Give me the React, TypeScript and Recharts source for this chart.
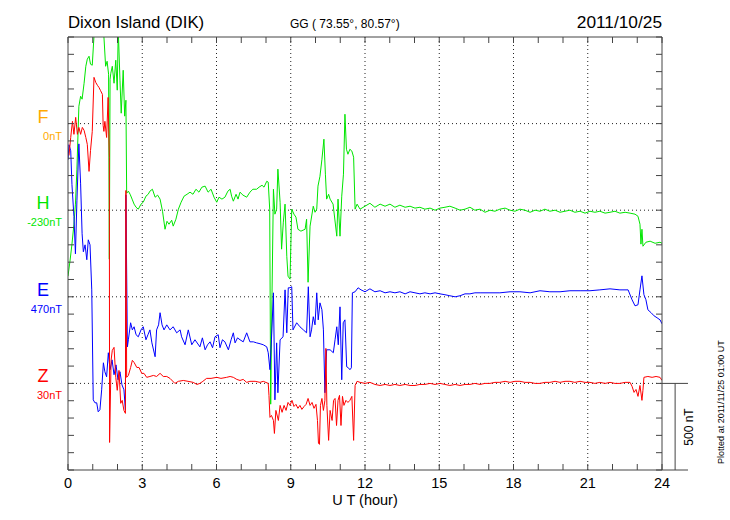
import { Line, LineChart, ReferenceLine, XAxis, YAxis } from "recharts";

// hour ticks along UT axis, labels every 3 h
const HOUR_TICKS = Array.from({ length: 25 }, (_, i) => i);
// plot units (nT), 100 nT per tick, 2500 nT full height
const NT_TICKS = Array.from({ length: 26 }, (_, i) => i * 100);

const COMPONENTS = ["F", "H", "E", "Z"];
const COMPONENT_BASE = [2000, 1500, 1000, 500];
const COMPONENT_LEVEL = ["0nT", "-230nT", "470nT", "30nT"];
const COMPONENT_COLOR = ["#ffaa00", "#00e600", "#0000ff", "#ff0000"];

// [UT hour, deviation nT]
const H_POINTS: [number, number][] = [
    [0, -381], [0.08, -294], [0.16, -196], [0.24, -81], [0.3, 35], [0.36, 237], [0.44, 600],
    [0.51, 658], [0.57, 641], [0.65, 733], [0.72, 831], [0.78, 872], [0.85, 889], [0.91, 843],
    [0.98, 837], [1.05, 1005], [1.13, 1074], [1.29, 1103], [1.37, 1057], [1.45, 1005],
    [1.52, 831], [1.58, 860], [1.64, 785], [1.67, -283], [1.7, 756], [1.73, 791], [1.79, 831],
    [1.86, 733], [1.93, 866], [1.99, 693], [2.03, 1045], [2.1, 751], [2.15, 560], [2.23, 808],
    [2.29, 543], [2.34, 635], [2.37, 98], [2.44, 110], [2.51, 92], [2.59, 64], [2.67, 35],
    [2.75, 17], [2.84, 6], [2.95, 35], [3.04, 46], [3.15, 81], [3.24, 92], [3.31, 110],
    [3.41, 121], [3.52, 75], [3.62, 87], [3.72, 64], [3.82, -6], [3.92, -110], [4.0, -64],
    [4.08, -81], [4.19, -58], [4.25, -92], [4.36, -52], [4.46, 6], [4.57, 46], [4.69, 81],
    [4.81, 92], [4.93, 104], [5.05, 92], [5.17, 121], [5.29, 104], [5.41, 133], [5.54, 139],
    [5.66, 104], [5.78, 121], [5.9, 75], [6.01, 46], [6.1, 75], [6.22, 64], [6.34, 75],
    [6.46, 110], [6.55, 121], [6.61, 81], [6.68, 52], [6.79, 92], [6.87, 64], [6.95, 104],
    [7.07, 87], [7.22, 75], [7.35, 104], [7.47, 121], [7.62, 121], [7.72, 133], [7.84, 144],
    [7.92, 133], [8.03, 167], [8.09, 162], [8.15, 6], [8.19, -1120], [8.24, -514], [8.3, 121],
    [8.36, -23], [8.43, 6], [8.48, 237], [8.57, 46], [8.63, -225], [8.7, -69], [8.77, 35],
    [8.84, -266], [8.89, -381], [8.97, -398], [9.04, 6], [9.13, -23], [9.21, -40], [9.29, -110],
    [9.41, -121], [9.58, -110], [9.64, -52], [9.7, -416], [9.78, -92], [9.91, 23], [9.98, -12],
    [10.05, 6], [10.1, 139], [10.18, 196], [10.26, 294], [10.34, 410], [10.4, 208], [10.45, 64],
    [10.53, 92], [10.59, 64], [10.71, 35], [10.86, -150], [10.91, 64], [10.99, -150], [11.06, 81],
    [11.13, 208], [11.19, 554], [11.25, 352], [11.31, 323], [11.39, 352], [11.47, 341],
    [11.54, 306], [11.6, 6], [11.68, 35], [11.8, 6], [12.0, 23], [12.2, 40], [12.4, 17],
    [12.61, 35], [12.81, 23], [13.01, 35], [13.21, 17], [13.41, 29], [13.62, 17], [13.82, 23],
    [14.02, 12], [14.22, 17], [14.42, 6], [14.63, 12], [14.83, 0], [15.03, 12], [15.23, 17],
    [15.43, 23], [15.64, 12], [15.84, 0], [16.04, 6], [16.24, 17], [16.44, 0], [16.65, 6],
    [16.85, -12], [17.05, 0], [17.25, -6], [17.45, 6], [17.66, 12], [17.86, 0], [18.06, -6],
    [18.26, 6], [18.46, 0], [18.67, -12], [18.87, 0], [19.07, -6], [19.27, 6], [19.47, -6],
    [19.68, 0], [19.88, -12], [20.08, -6], [20.28, 0], [20.48, -12], [20.69, -6], [20.89, -17],
    [21.09, -6], [21.29, -12], [21.49, -6], [21.7, -17], [21.9, -12], [22.1, -6], [22.3, -17],
    [22.51, -12], [22.71, -17], [22.91, -23], [23.03, -35], [23.11, -81], [23.15, -196],
    [23.19, -110], [23.23, -208], [23.35, -185], [23.52, -179], [23.72, -191], [23.92, -185],
    [24.0, -191],
];

const E_POINTS: [number, number][] = [
    [0, 791], [0.04, 878], [0.11, 843], [0.16, 647], [0.24, 462], [0.3, 248], [0.36, 554],
    [0.44, 883], [0.51, 652], [0.57, 364], [0.62, 260], [0.69, 300], [0.76, 214], [0.82, 329],
    [0.89, 300], [0.96, 40], [1.02, -595], [1.09, -612], [1.16, -612], [1.22, -664],
    [1.29, -652], [1.36, -537], [1.43, -381], [1.49, -433], [1.56, -462], [1.63, -323],
    [1.7, -421], [1.78, -364], [1.86, -450], [1.94, -393], [2.02, -479], [2.1, -433],
    [2.18, -508], [2.26, -537], [2.32, -652], [2.34, 589], [2.4, -289], [2.44, -248],
    [2.53, -150], [2.6, -191], [2.67, -173], [2.75, -219], [2.84, -231], [2.95, -191],
    [3.04, -173], [3.15, -248], [3.23, -219], [3.31, -191], [3.39, -266], [3.52, -346],
    [3.58, -191], [3.66, -162], [3.72, -92], [3.8, -162], [3.88, -191], [3.99, -162],
    [4.12, -191], [4.25, -173], [4.39, -208], [4.53, -191], [4.59, -231], [4.73, -277],
    [4.86, -191], [5.0, -277], [5.13, -248], [5.33, -289], [5.43, -237], [5.54, -306],
    [5.64, -277], [5.74, -260], [5.84, -294], [5.94, -231], [6.07, -219], [6.14, -294],
    [6.24, -248], [6.34, -260], [6.48, -306], [6.59, -248], [6.68, -208], [6.75, -266],
    [6.85, -237], [6.95, -248], [7.08, -260], [7.22, -208], [7.35, -260], [7.49, -260],
    [7.62, -266], [7.76, -271], [7.89, -277], [8.03, -289], [8.09, -323], [8.16, -421],
    [8.22, -248], [8.3, 23], [8.36, -595], [8.43, -266], [8.48, -554], [8.57, -248],
    [8.69, -231], [8.77, 40], [8.84, -208], [8.9, 52], [8.97, 52], [9.04, 58], [9.09, -191],
    [9.24, -150], [9.37, -173], [9.51, -191], [9.64, -208], [9.71, 58], [9.78, -231],
    [9.84, -191], [9.91, -115], [9.98, -162], [10.05, 23], [10.11, -133], [10.18, -35],
    [10.26, -75], [10.32, -191], [10.38, -554], [10.45, -306], [10.59, -306], [10.72, -323],
    [10.79, -248], [10.86, -173], [10.92, -277], [10.99, -58], [11.06, -479], [11.12, -150],
    [11.19, -133], [11.26, -404], [11.33, -410], [11.39, -421], [11.45, -410], [11.49, 23],
    [11.6, 29], [11.72, 52], [11.84, 40], [12.0, 29], [12.2, 46], [12.4, 29], [12.61, 35],
    [12.81, 23], [13.01, 29], [13.21, 23], [13.41, 29], [13.62, 17], [13.82, 29], [14.02, 23],
    [14.22, 17], [14.42, 23], [14.63, 17], [14.83, 23], [15.03, 17], [15.23, 12], [15.43, 6],
    [15.64, 0], [15.84, 6], [16.04, 17], [16.24, 17], [16.44, 23], [16.65, 23], [17.05, 23],
    [17.45, 23], [17.86, 29], [18.26, 29], [18.67, 23], [19.07, 35], [19.47, 29], [19.88, 29],
    [20.28, 35], [20.69, 35], [21.09, 35], [21.49, 40], [21.9, 46], [22.3, 40], [22.63, 40],
    [22.79, -17], [22.91, -52], [23.03, -46], [23.11, 40], [23.19, 121], [23.27, 12],
    [23.35, -17], [23.43, -75], [23.56, -92], [23.68, -110], [23.8, -121], [23.92, -133],
    [24.0, -156],
];

const Z_POINTS: [number, number][] = [
    [0.04, 1316], [0.11, 1420], [0.18, 1513], [0.24, 1438], [0.31, 1536], [0.38, 1438],
    [0.44, 1478], [0.51, 1438], [0.58, 1478], [0.65, 1461], [0.72, 1420], [0.78, 1380],
    [0.85, 1224], [0.91, 1345], [0.98, 1455], [1.05, 1767], [1.12, 1738], [1.19, 1721],
    [1.25, 1709], [1.31, 1692], [1.39, 1669], [1.42, 1490], [1.45, 1455], [1.49, 1513],
    [1.56, 1420], [1.62, 1651], [1.67, 1305], [1.68, -341], [1.74, 133], [1.79, 191],
    [1.86, 208], [1.93, 35], [1.99, -40], [2.06, 75], [2.13, -115], [2.19, -98], [2.26, -156],
    [2.32, -173], [2.34, 1114], [2.37, 35], [2.44, 46], [2.53, 92], [2.6, 133], [2.67, 121],
    [2.78, 92], [2.87, 92], [2.98, 58], [3.07, 58], [3.18, 35], [3.31, 40], [3.45, 46],
    [3.58, 40], [3.72, 58], [3.85, 40], [3.99, 40], [4.12, 29], [4.32, 0], [4.46, 12],
    [4.66, 17], [4.85, 12], [5.06, 6], [5.21, -6], [5.33, 0], [5.45, 12], [5.6, 29],
    [5.78, 29], [6.01, 35], [6.18, 29], [6.41, 35], [6.55, 40], [6.68, 35], [6.82, 23],
    [6.95, 17], [7.08, 23], [7.22, 6], [7.35, 12], [7.56, 12], [7.76, 6], [7.89, 12],
    [8.09, 0], [8.12, -69], [8.16, -196], [8.22, -185], [8.3, -214], [8.34, -289],
    [8.4, -156], [8.5, -214], [8.57, -127], [8.65, -167], [8.73, -127], [8.81, -156],
    [8.89, -110], [8.97, -127], [9.05, -98], [9.13, -133], [9.21, -121], [9.29, -144],
    [9.37, -127], [9.45, -150], [9.54, -133], [9.62, -121], [9.7, -87], [9.78, -127],
    [9.86, -110], [9.94, -144], [10.02, -121], [10.08, -214], [10.12, -346], [10.16, -352],
    [10.2, -127], [10.26, -87], [10.32, -156], [10.38, -98], [10.42, 202], [10.46, -127],
    [10.53, -329], [10.59, -156], [10.67, -214], [10.73, -98], [10.79, -87], [10.85, -243],
    [10.91, -98], [10.97, -69], [11.03, -243], [11.09, -75], [11.15, -127], [11.23, -98],
    [11.31, -110], [11.39, -98], [11.47, -75], [11.54, -329], [11.6, -12], [11.68, 12],
    [11.8, 6], [12.0, 0], [12.2, 6], [12.4, -6], [12.61, -12], [12.81, -6], [13.01, -12],
    [13.21, -6], [13.41, -12], [13.62, -6], [13.82, -12], [14.02, -12], [14.22, -6],
    [14.42, -6], [14.63, 0], [14.83, -6], [15.03, 0], [15.23, -6], [15.43, -12], [15.64, -6],
    [15.84, -12], [16.04, -6], [16.24, -6], [16.44, 0], [16.65, -6], [16.85, 0], [17.05, 0],
    [17.25, 6], [17.45, 6], [17.66, 12], [17.86, 6], [18.06, 12], [18.26, 12], [18.46, 6],
    [18.67, 6], [18.87, 0], [19.07, 0], [19.27, 6], [19.47, 6], [19.68, 12], [19.88, 6],
    [20.08, 12], [20.28, 12], [20.48, 6], [20.69, 12], [20.89, 6], [21.09, 6], [21.29, 0],
    [21.49, 6], [21.7, 0], [21.9, 6], [22.1, 0], [22.3, 0], [22.51, 6], [22.71, 6],
    [22.79, -17], [22.87, -52], [22.95, -35], [23.03, -75], [23.11, -12], [23.19, -98],
    [23.23, -40], [23.27, 35], [23.43, 40], [23.6, 35], [23.76, 40], [23.92, 35], [24.0, 17],
];

const SCALE_BAR_NT = 500;

const AXIS = "#444";
const FONT = "'Liberation Sans', Arial, Helvetica, sans-serif";

const toRows = (points: [number, number][], base: number) =>
    points.map(([t, v]) => ({ t, v: v + base }));

// ticks point into the plot area
const bottomTick = ({ x, y, payload }: any) => (
    <g>
        <line x1={x} y1={y} x2={x} y2={y - 6} stroke={AXIS} />
        {payload.value % 3 === 0 && (
            <text x={x} y={y + 18} textAnchor="middle" fontSize={14.5} fontFamily={FONT} fill="#000">
                {payload.value}
            </text>
        )}
    </g>
);
const topTick = ({ x, y }: any) => <line x1={x} y1={y} x2={x} y2={y + 6} stroke={AXIS} />;
const leftTick = ({ x, y }: any) => <line x1={x} y1={y} x2={x + 6} y2={y} stroke={AXIS} />;
const rightTick = ({ x, y }: any) => <line x1={x} y1={y} x2={x - 6} y2={y} stroke={AXIS} />;

const componentLabel = (i: number) => (props: any) => {
    const { x, y } = props.viewBox;
    return (
        <g fontFamily={FONT} fill={COMPONENT_COLOR[i]}>
            <text x={x - 25} y={y - 1} textAnchor="middle" fontSize={18}>
                {COMPONENTS[i]}
            </text>
            <text x={x - 6} y={y + 16} textAnchor="end" fontSize={11}>
                {COMPONENT_LEVEL[i]}
            </text>
        </g>
    );
};

const series = [
    { key: "H", data: toRows(H_POINTS, COMPONENT_BASE[1]), color: COMPONENT_COLOR[1] },
    { key: "E", data: toRows(E_POINTS, COMPONENT_BASE[2]), color: COMPONENT_COLOR[2] },
    { key: "Z", data: toRows(Z_POINTS, COMPONENT_BASE[3]), color: COMPONENT_COLOR[3] },
];

export default function App() {
    return (
        <div style={{ position: "absolute", left: 0, top: 0, width: 730, height: 520, background: "#fff" }}>
            <LineChart width={730} height={520} margin={{ top: 36, right: 67, bottom: 0, left: 67 }}>
                <XAxis
                    xAxisId="b"
                    dataKey="t"
                    type="number"
                    domain={[0, 24]}
                    ticks={HOUR_TICKS}
                    interval={0}
                    allowDataOverflow
                    height={50}
                    tickSize={0}
                    tickMargin={0}
                    tickLine={false}
                    axisLine={{ stroke: AXIS }}
                    tick={bottomTick}
                />
                <XAxis
                    xAxisId="t"
                    orientation="top"
                    dataKey="t"
                    type="number"
                    domain={[0, 24]}
                    ticks={HOUR_TICKS}
                    interval={0}
                    allowDataOverflow
                    height={1}
                    tickSize={0}
                    tickMargin={0}
                    tickLine={false}
                    axisLine={{ stroke: AXIS }}
                    tick={topTick}
                />
                <YAxis
                    yAxisId="l"
                    type="number"
                    domain={[0, 2500]}
                    ticks={NT_TICKS}
                    interval={0}
                    allowDataOverflow
                    width={1}
                    tickSize={0}
                    tickMargin={0}
                    tickLine={false}
                    axisLine={{ stroke: AXIS }}
                    tick={leftTick}
                />
                <YAxis
                    yAxisId="r"
                    orientation="right"
                    type="number"
                    domain={[0, 2500]}
                    ticks={NT_TICKS}
                    interval={0}
                    allowDataOverflow
                    width={1}
                    tickSize={0}
                    tickMargin={0}
                    tickLine={false}
                    axisLine={{ stroke: AXIS }}
                    tick={rightTick}
                />

                {HOUR_TICKS.filter((h) => h % 3 === 0 && h > 0 && h < 24).map((h) => (
                    <ReferenceLine
                        key={`v${h}`}
                        xAxisId="b"
                        yAxisId="l"
                        x={h}
                        stroke="#222"
                        strokeDasharray="1 3"
                    />
                ))}
                {COMPONENT_BASE.map((b, i) => (
                    <ReferenceLine
                        key={`h${b}`}
                        xAxisId="b"
                        yAxisId="l"
                        y={b}
                        stroke="#222"
                        strokeDasharray="1 3"
                        label={componentLabel(i)}
                    />
                ))}

                {/* 500 nT scale bar right of the plot */}
                <ReferenceLine
                    xAxisId="b"
                    yAxisId="l"
                    ifOverflow="visible"
                    segment={[{ x: 24, y: 0 }, { x: 25.05, y: 0 }]}
                    stroke={AXIS}
                />
                <ReferenceLine
                    xAxisId="b"
                    yAxisId="l"
                    ifOverflow="visible"
                    segment={[{ x: 24, y: SCALE_BAR_NT }, { x: 25.05, y: SCALE_BAR_NT }]}
                    stroke={AXIS}
                />
                <ReferenceLine
                    xAxisId="b"
                    yAxisId="l"
                    ifOverflow="visible"
                    segment={[{ x: 24.53, y: 0 }, { x: 24.53, y: SCALE_BAR_NT }]}
                    stroke={AXIS}
                />

                {series.map((s) => (
                    <Line
                        key={s.key}
                        xAxisId="b"
                        yAxisId="l"
                        data={s.data}
                        dataKey="v"
                        type="linear"
                        stroke={s.color}
                        strokeWidth={1}
                        dot={false}
                        activeDot={false}
                        isAnimationActive={false}
                    />
                ))}
            </LineChart>

            <svg
                width={730}
                height={520}
                style={{ position: "absolute", left: 0, top: 0, pointerEvents: "none" }}
                fontFamily={FONT}>
                <text x={68} y={28} fontSize={16.8} fill="#000">
                    Dixon Island (DIK)
                </text>
                <text x={290} y={28} fontSize={12} fill="#000">
                    GG ( 73.55°,  80.57°)
                </text>
                <text x={662} y={28} fontSize={17.3} textAnchor="end" fill="#000">
                    2011/10/25
                </text>
                <text x={365} y={505} fontSize={14.5} textAnchor="middle" fill="#000">
                    U T (hour)
                </text>
                <text x={693} y={427} fontSize={12} textAnchor="middle" fill="#000" transform="rotate(-90 693 427)">
                    500 nT
                </text>
                <text x={724} y={402} fontSize={9} textAnchor="middle" fill="#000" transform="rotate(-90 724 402)">
                    Plotted at 2011/11/25 01:00 UT
                </text>
            </svg>
        </div>
    );
}
